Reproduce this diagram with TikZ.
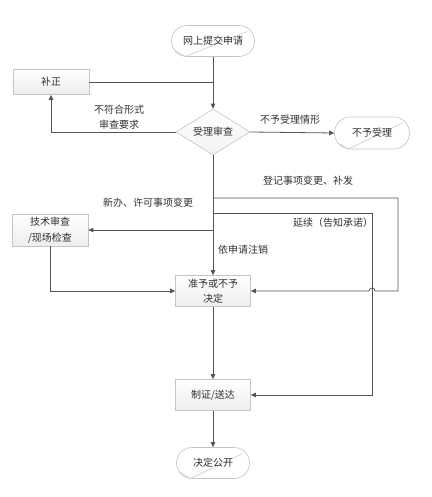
\documentclass[tikz,border=0pt]{standalone}
\usepackage{fontspec}
\setmainfont{Noto Sans CJK SC}
\usetikzlibrary{shapes.geometric,shapes.misc,arrows.meta,calc}
\definecolor{linegray}{HTML}{555555}
\definecolor{boxline}{HTML}{C4C4C4}
\definecolor{txtgray}{HTML}{303030}

\tikzset{
	procbox/.style={rectangle, draw=boxline, line width=0.6pt, top color=white, bottom color=gray!14, minimum width=75bp, minimum height=31bp, align=center, inner sep=1pt},
	termbox/.style={rounded rectangle, draw=boxline, line width=0.6pt, fill=white, minimum width=76bp, minimum height=31bp, inner sep=1pt,
		path picture={\draw[boxline, line width=0.5pt] ([xshift=-2bp,yshift=9bp]path picture bounding box.south west) -- ([xshift=14bp]path picture bounding box.south west) -- ([xshift=-7bp,yshift=-6bp]path picture bounding box.north east);}},
	checkbox/.style={diamond, draw=boxline, line width=0.6pt, top color=white, bottom color=gray!10, aspect=1.6, minimum width=74bp, minimum height=46bp, inner sep=0pt},
	flow/.style={draw=linegray, line width=0.8pt},
	arr/.style={flow, -{Triangle[length=5bp,width=4.5bp]}},
	lbl/.style={align=center, inner sep=1pt}
}

\begin{document}
\begin{tikzpicture}[x=1bp, y=1bp, every node/.style={font=\fontsize{10bp}{15.5bp}\selectfont, text=txtgray}]
	\useasboundingbox (0,0) rectangle (431,497);
	
	% steps
	\node[termbox, minimum width=85bp] (submit) at (213,456) {网上提交申请};
	\node[procbox, minimum width=76bp, minimum height=25bp] (fix) at (51,415) {补正};
	\node[checkbox] (review) at (213,365) {受理审查};
	\node[termbox, minimum width=77bp, minimum height=32bp] (reject) at (372,364) {不予受理};
	\node[procbox, minimum width=76bp, minimum height=32bp] (tech) at (50,267) {技术审查\\/现场检查};
	\node[procbox] (decide) at (213,206) {准予或不予\\决定};
	\node[procbox] (issue) at (213,102) {制证/送达};
	\node[termbox, minimum width=75bp] (public) at (213,34) {决定公开};
	
	% branch points
	\coordinate (join) at (submit |- fix);
	\coordinate (b1) at (213,299);
	\coordinate (r1) at (398,299);
	\coordinate (b2) at (213,284);
	\coordinate (r2) at (372,284);
	
	% connectors
	\draw[flow] (fix.east) -- (join);
	\draw[arr] (submit.south) -- (review.north);
	\draw[arr] (review.west) -| (fix.south);
	\draw[arr] (review.east) -- (reject.west);
	\draw[arr] (review.south) -- (decide.north);
	\draw[arr] (review |- tech.east) -- (tech.east);
	\draw[arr] (tech.south) |- (decide.west);
	\draw[arr] (b1) -- (r1) -- (r1 |- decide) -- ($(r2 |- decide)+(3,0)$) arc[start angle=0, end angle=180, radius=3bp] -- (decide.east);
	\draw[arr] (b2) -- (r2) -- (r2 |- issue) -- (issue.east);
	\draw[arr] (decide.south) -- (issue.north);
	\draw[arr] (issue.south) -- (public.north);
	
	% labels
	\node[lbl] (lblform) at (119,380) {不符合形式\\审查要求};
	\node[lbl] (lblreject) at (290,377) {不予受理情形};
	\node[lbl] (lblchange) at (308,316) {登记事项变更、补发};
	\node[lbl] (lblnew) at (148,294) {新办、许可事项变更};
	\node[lbl] (lblrenew) at (333,274) {延续（告知承诺）};
	\node[lbl] (lblcancel) at (243,247) {依申请注销};
	
\end{tikzpicture}
\end{document}
